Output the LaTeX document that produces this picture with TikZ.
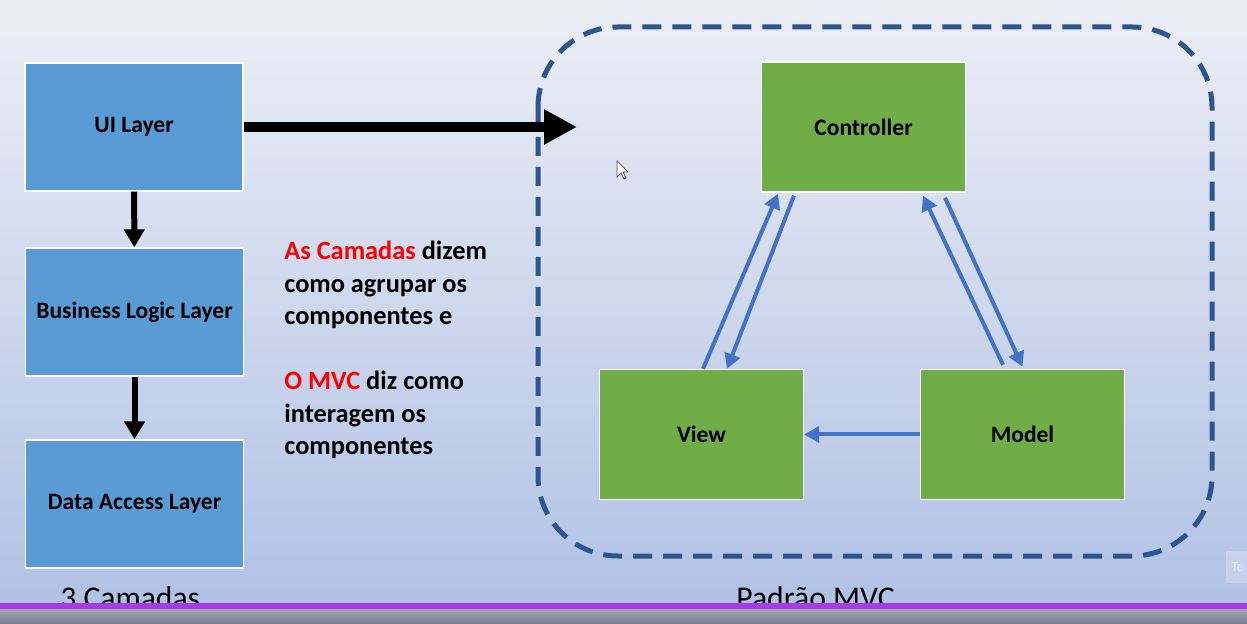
\documentclass[tikz,border=0pt]{standalone}
\usepackage{fontspec}
\setmainfont{Carlito}
\usepackage{xcolor}
\usetikzlibrary{positioning, arrows.meta, calc}

\definecolor{layerblue}{RGB}{91,155,213}
\definecolor{mvcgreen}{RGB}{112,173,71}
\definecolor{linkblue}{RGB}{68,114,196}
\definecolor{frameblue}{RGB}{47,85,143}
\definecolor{bgtop}{RGB}{236,238,245}
\definecolor{bgbottom}{RGB}{176,194,229}
\definecolor{barpurple}{RGB}{166,58,236}
\definecolor{bartop}{RGB}{160,166,180}
\definecolor{barbottom}{RGB}{120,126,142}

\begin{document}
\begin{tikzpicture}[x=0.02cm, y=-0.02cm,
    layer/.style={draw=white, line width=0.8pt, fill=layerblue, minimum width=4.36cm, minimum height=2.56cm, font=\fontsize{13.4}{16}\selectfont\bfseries},
    part/.style={draw=white, line width=0.8pt, fill=mvcgreen, minimum width=4.08cm, minimum height=2.6cm, font=\fontsize{13.4}{16}\selectfont\bfseries},
    down/.style={line width=0.12cm, -{Triangle[length=0.36cm, width=0.4cm]}},
    link/.style={draw=linkblue, line width=0.08cm, -{Triangle[length=0.3cm, width=0.32cm]}},
    caption/.style={inner sep=0pt, font=\fontsize{18}{20}\selectfont}]
      \useasboundingbox (0,0) rectangle (1247,624);
      \shade[top color=bgtop, bottom color=bgbottom] (0,0) rectangle (1247,603);

      \node[layer] (ui) at (134,127) {UI Layer};
      \node[layer] (bll) at (134.5,312) {Business Logic Layer};
      \node[layer] (dal) at (134.5,504) {Data Access Layer};
      \draw[down] (ui) -- (bll);
      \draw[down] (bll) -- (dal);

      \node[align=left, anchor=base west, inner sep=0pt, font=\fontsize{15}{18.5}\selectfont\bfseries] (note) at (284,455)
        {{\color{red}As Camadas} dizem\\como agrupar os\\componentes e\\[18.5pt]{\color{red}O MVC} diz como\\interagem os\\componentes};

      \draw[frameblue, line width=0.1cm, dash pattern=on 0.38cm off 0.22cm, rounded corners=1.6cm] (538,27) rectangle (1212,556);
      \coordinate (mvcentry) at (577,127);
      \draw[line width=0.2cm, -{Triangle[length=0.66cm, width=0.66cm]}] (ui.east) -- (mvcentry);

      \node[part] (ctrl) at (863.5,127) {Controller};
      \node[part] (view) at (701.5,434.5) {View};
      \node[part] (model) at (1022.5,434.5) {Model};
      \draw[link] ([xshift=0.03cm]view.north) -- ([xshift=-1.71cm, yshift=-0.02cm]ctrl.south);
      \draw[link] ([xshift=-1.39cm, yshift=-0.06cm]ctrl.south) -- ([xshift=0.51cm]view.north);
      \draw[link] ([xshift=-0.39cm, yshift=0.08cm]model.north) -- ([xshift=1.19cm, yshift=-0.06cm]ctrl.south);
      \draw[link] ([xshift=1.63cm, yshift=-0.1cm]ctrl.south) -- ([yshift=0.04cm]model.north);
      \draw[link] (model) -- (view);

      \draw[fill=white, draw=black!70, line width=0.4pt, shift={(617,161)}] (0,0) -- (0,16) -- (4,12) -- (7,18) -- (9,17) -- (6,11) -- (11,11) -- cycle;

      \fill[white, opacity=0.25] (1226,551) rectangle (1247,583);
      \node[anchor=west, inner sep=0pt, text=white, opacity=0.5, font=\fontsize{8}{9}\selectfont] (te) at (1231,567) {Te};

      \node[caption, anchor=base west] (camadas) at (60,608) {3 Camadas};
      \node[caption, anchor=base west] (padrao) at (736,608) {Padrão MVC};

      \fill[barpurple] (0,603) rectangle (1247,609);
      \shade[top color=bartop, bottom color=barbottom] (0,609) rectangle (1247,624);
    \end{tikzpicture}
\end{document}
